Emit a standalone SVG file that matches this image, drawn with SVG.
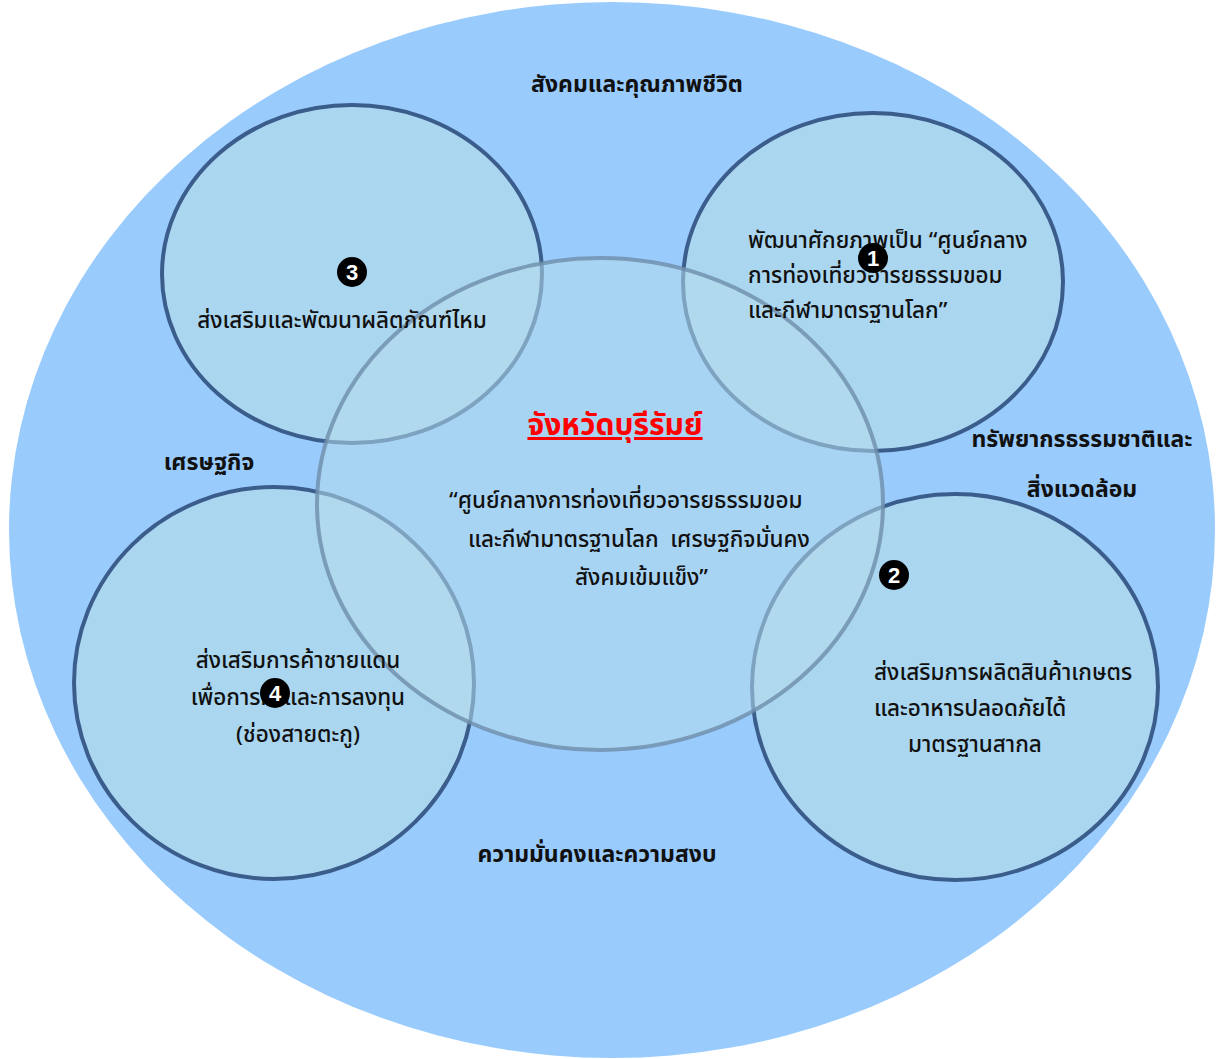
<svg xmlns="http://www.w3.org/2000/svg" width="1217" height="1059" viewBox="0 0 1217 1059">
<style>
.bg{fill:#ffffff}
.outer{fill:#99CBFD}
.sub{fill:#AAD6F0;stroke:#3B5D8B;stroke-width:4}
.core{fill:#B4DCEC;fill-opacity:0.55;stroke:#6E8DAA;stroke-opacity:0.8;stroke-width:4}
.lbl{font-family:"Noto Sans Thai","Noto Sans","DejaVu Sans",sans-serif;font-weight:bold;font-size:23px;fill:#111}
.txt{font-family:"Noto Sans Thai","Noto Sans","DejaVu Sans",sans-serif;font-weight:500;font-size:22.5px;fill:#111}
.title{font-family:"Noto Sans Thai","Noto Sans","DejaVu Sans",sans-serif;font-weight:bold;font-size:30px;fill:#FF0000;text-decoration:underline}
.numc{fill:#000}
.num{font-family:"Liberation Sans",sans-serif;font-weight:bold;font-size:22px;fill:#fff;text-anchor:middle}
</style>
<rect class="bg" x="0" y="0" width="1217" height="1059"/>
<g id="outer"><ellipse class="outer" cx="612" cy="530" rx="603" ry="528"/>
<text class="lbl" x="637" y="92" text-anchor="middle">สังคมและคุณภาพชีวิต</text>
<text class="lbl" x="209" y="470" text-anchor="middle">เศรษฐกิจ</text>
<text class="lbl" x="1082" y="447" text-anchor="middle">ทรัพยากรธรรมชาติและ</text>
<text class="lbl" x="1082" y="497" text-anchor="middle">สิ่งแวดล้อม</text>
<text class="lbl" x="597" y="862" text-anchor="middle">ความมั่นคงและความสงบ</text>
</g>
<g id="node3"><ellipse class="sub" cx="352" cy="274" rx="190" ry="169"/></g>
<g id="node1"><ellipse class="sub" cx="873" cy="282" rx="190" ry="169"/></g>
<g id="node4"><ellipse class="sub" cx="274" cy="683" rx="200" ry="196"/></g>
<g id="node2"><ellipse class="sub" cx="955" cy="687" rx="203" ry="193"/></g>
<g id="core"><ellipse class="core" cx="600" cy="504" rx="283" ry="246"/>
<text class="title" x="615" y="435" text-anchor="middle">จังหวัดบุรีรัมย์</text>
<text class="txt" x="449" y="508">“ศูนย์กลางการท่องเที่ยวอารยธรรมขอม</text>
<text class="txt" x="468" y="547" xml:space="preserve">และกีฬามาตรฐานโลก  เศรษฐกิจมั่นคง</text>
<text class="txt" x="575" y="585">สังคมเข้มแข็ง”</text>
</g>
<g id="text3"><text class="txt" x="342" y="328" text-anchor="middle">ส่งเสริมและพัฒนาผลิตภัณฑ์ไหม</text>
<circle class="numc" cx="352" cy="272" r="15"/><text class="num" x="352" y="280">3</text></g>
<g id="text1"><text class="txt" x="748" y="248">พัฒนาศักยภาพเป็น “ศูนย์กลาง</text>
<text class="txt" x="748" y="283">การท่องเที่ยวอารยธรรมขอม</text>
<text class="txt" x="748" y="318">และกีฬามาตรฐานโลก”</text>
<circle class="numc" cx="873" cy="258" r="15"/><text class="num" x="873" y="266">1</text></g>
<g id="text4"><text class="txt" x="298" y="668" text-anchor="middle">ส่งเสริมการค้าชายแดน</text>
<text class="txt" x="298" y="705" text-anchor="middle">เพื่อการค้าและการลงทุน</text>
<text class="txt" x="298" y="742" text-anchor="middle">(ช่องสายตะกู)</text>
<circle class="numc" cx="275" cy="693" r="15"/><text class="num" x="275" y="701">4</text></g>
<g id="text2"><text class="txt" x="874" y="680">ส่งเสริมการผลิตสินค้าเกษตร</text>
<text class="txt" x="874" y="716">และอาหารปลอดภัยได้</text>
<text class="txt" x="908" y="752">มาตรฐานสากล</text>
<circle class="numc" cx="894" cy="575" r="15"/><text class="num" x="894" y="583">2</text></g>
</svg>
